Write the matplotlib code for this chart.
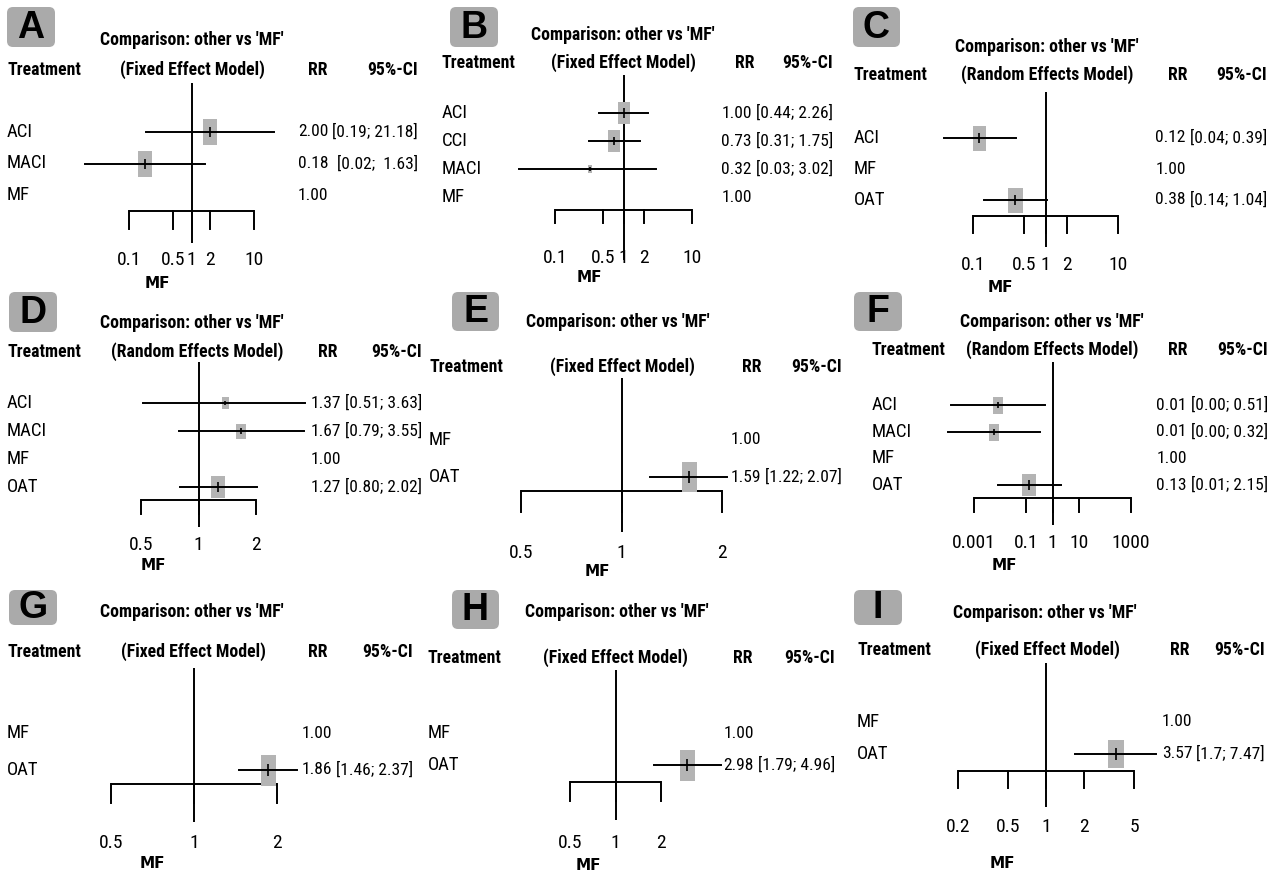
import numpy as np
import matplotlib
matplotlib.use('Agg')
import matplotlib.pyplot as plt
from matplotlib import font_manager
from matplotlib.patches import FancyBboxPatch

W, H = 1278, 873
nan = np.nan

# ---- data ----
a_treat = ['ACI', 'MACI', 'MF']
a_rr = [2.00, 0.18, 1.00]
a_lo = [0.19, 0.02, nan]
a_hi = [21.18, 1.63, nan]
a_ci = ['[0.19; 21.18]', '[0.02;  1.63]', '']

b_treat = ['ACI', 'CCI', 'MACI', 'MF']
b_rr = [1.00, 0.73, 0.32, 1.00]
b_lo = [0.44, 0.31, 0.03, nan]
b_hi = [2.26, 1.75, 3.02, nan]
b_ci = ['[0.44; 2.26]', '[0.31; 1.75]', '[0.03; 3.02]', '']

c_treat = ['ACI', 'MF', 'OAT']
c_rr = [0.12, 1.00, 0.38]
c_lo = [0.04, nan, 0.14]
c_hi = [0.39, nan, 1.04]
c_ci = ['[0.04; 0.39]', '', '[0.14; 1.04]']

d_treat = ['ACI', 'MACI', 'MF', 'OAT']
d_rr = [1.37, 1.67, 1.00, 1.27]
d_lo = [0.51, 0.79, nan, 0.80]
d_hi = [3.63, 3.55, nan, 2.02]
d_ci = ['[0.51; 3.63]', '[0.79; 3.55]', '', '[0.80; 2.02]']

e_treat = ['MF', 'OAT']
e_rr = [1.00, 1.59]
e_lo = [nan, 1.22]
e_hi = [nan, 2.07]
e_ci = ['', '[1.22; 2.07]']

f_treat = ['ACI', 'MACI', 'MF', 'OAT']
f_rr = [0.0085, 0.0059, 1.00, 0.13]
f_lo = [0.00013, 0.0001, nan, 0.008]
f_hi = [0.51, 0.32, nan, 2.15]
f_ci = ['[0.00; 0.51]', '[0.00; 0.32]', '', '[0.01; 2.15]']

g_treat = ['MF', 'OAT']
g_rr = [1.00, 1.86]
g_lo = [nan, 1.46]
g_hi = [nan, 2.37]
g_ci = ['', '[1.46; 2.37]']

h_treat = ['MF', 'OAT']
h_rr = [1.00, 2.98]
h_lo = [nan, 1.79]
h_hi = [nan, 4.96]
h_ci = ['', '[1.79; 4.96]']

i_treat = ['MF', 'OAT']
i_rr = [1.00, 3.57]
i_lo = [nan, 1.7]
i_hi = [nan, 7.47]
i_ci = ['', '[1.7; 7.47]']

ticks_wide = [0.1, 0.5, 1, 2, 10]
ticks_half = [0.5, 1, 2]
ticks_f = [0.001, 0.1, 1, 10, 1000]
ticks_i = [0.2, 0.5, 1, 2, 5]

FIXED = '(Fixed Effect Model)'
RANDOM = '(Random Effects Model)'

# ---- fonts ----
names = {f.name for f in font_manager.fontManager.ttflist}
NARROW = None
for cand in ['Liberation Sans Narrow', 'Arial Narrow', 'Roboto Condensed', 'Open Sans Condensed']:
    if cand in names:
        NARROW = cand
        break
if NARROW is None:
    NARROW = 'Liberation Sans'
    FS, HFS, VFS = 11, 11, 10.5
else:
    FS, HFS, VFS = 13.5, 12.8, 12.5
LW = 1.4

fig = plt.figure(figsize=(W / 100, H / 100), dpi=100)
ov = fig.add_axes([0, 0, 1, 1])
ov.set_xlim(0, W)
ov.set_ylim(H, 0)
ov.axis('off')
renderer = fig.canvas.get_renderer()


def txt(x, y, s, bold=False, ha='left', size=None):
    return ov.text(x, y, s, ha=ha, va='center', family=NARROW,
                   fontweight='bold' if bold else 'normal', fontsize=size or FS)


def panel(tag, treat, rr, lo, hi, ci, ticks, model, L):
    # label box
    x0, y0, x1, y1 = L['box']
    ov.add_patch(FancyBboxPatch((x0, y0), x1 - x0, y1 - y0,
                                boxstyle='round,pad=0,rounding_size=6',
                                fc='#aaaaaa', ec='none'))
    ov.text((x0 + x1) / 2, (y0 + y1) / 2 + 1, tag, ha='center', va='center',
            family='Liberation Sans', fontweight='bold', fontsize=27)

    # headers
    txt(L['t1'][0], L['t1'][1], "Comparison: other vs 'MF'", bold=True, ha='center', size=HFS)
    txt(L['t2'][0], L['t2'][1], model, bold=True, ha='center', size=HFS)
    txt(L['tx'], L['t2'][1], 'Treatment', bold=True, size=HFS)
    txt(L['rr'], L['t2'][1], 'RR', bold=True, ha='center', size=HFS)
    txt(L['cir'], L['t2'][1], '95%-CI', bold=True, ha='right', size=HFS)

    # rows text: CI column right aligned, RR column right aligned left of it
    ci_left = L['cir']
    for k, name in enumerate(treat):
        y = L['row0'] + k * L['step']
        txt(L['tx'], y, name)
        if ci[k]:
            t = txt(L['cir'], y, ci[k], ha='right', size=VFS)
            ci_left = min(ci_left, t.get_window_extent(renderer).x0)
    probe = txt(L['vx'], -100, '0.00', size=VFS)
    rr_w = probe.get_window_extent(renderer).width
    probe.remove()
    rr_right = min(L['vx'] + rr_w, ci_left - 4)
    for k in range(len(treat)):
        y = L['row0'] + k * L['step']
        txt(rr_right, y, f'{rr[k]:.2f}', ha='right', size=VFS)

    ov.text(L['mf'][0], L['mf'][1], 'MF', ha='center', va='center',
            family='DejaVu Sans', fontweight='bold', fontsize=11)

    # forest axes
    px0, px1 = L['tpx']
    ax = fig.add_axes([px0 / W, 1 - L['vbot'] / H, (px1 - px0) / W,
                       (L['vbot'] - L['vtop']) / H])
    ax.set_xscale('log')
    ax.set_xlim(ticks[0], ticks[-1])

    def to_row(y):
        return (y - L['row0']) / L['step']

    ax.set_ylim(to_row(L['vbot']), to_row(L['vtop']))
    ax.axis('off')
    ax.axvline(1, color='black', lw=LW)
    ya, yb = to_row(L['axis']), to_row(L['tbot'])
    ax.plot([ticks[0], ticks[-1]], [ya, ya], color='black', lw=LW,
            solid_capstyle='butt', clip_on=False)
    for t in ticks:
        ax.plot([t, t], [ya, yb], color='black', lw=LW, clip_on=False)
        ax.text(t, to_row(L['lab']), f'{t:g}', ha='center', va='center',
                family=NARROW, fontsize=FS + 0.5, clip_on=False)

    for k in range(len(treat)):
        if np.isnan(lo[k]):
            continue
        ax.plot([lo[k], hi[k]], [k, k], color='black', lw=LW, zorder=3,
                clip_on=False)
        w, h = L['boxes'][k]
        marker = [(-w, -h), (w, -h), (w, h), (-w, h), (-w, -h)]
        ax.plot([rr[k]], [k], marker=marker, markersize=h * 0.72,
                color='#b4b4b4', mew=0, zorder=2, clip_on=False)
        ax.plot([rr[k]], [k], marker='|', markersize=h * 0.72 * 0.4,
                color='black', mew=1.2, zorder=4, clip_on=False)


panel('A', a_treat, a_rr, a_lo, a_hi, a_ci, ticks_wide, FIXED, dict(
    box=(7, 7, 55, 47), t1=(192, 40), t2=(192, 70), tx=7, rr=318, cir=418,
    row0=132, step=31.5, vtop=83, vbot=243, axis=211, tbot=229, lab=260,
    tpx=(129, 254), vx=303, mf=(157, 284),
    boxes=[(14, 26), (14, 27), None]))

panel('B', b_treat, b_rr, b_lo, b_hi, b_ci, ticks_wide, FIXED, dict(
    box=(450, 7, 498, 47), t1=(623, 35), t2=(623, 63), tx=442, rr=745, cir=833,
    row0=113, step=28, vtop=75, vbot=260, axis=210, tbot=223, lab=258,
    tpx=(555, 692), vx=731, mf=(589, 277),
    boxes=[(13, 23), (12, 22), (4, 8), None]))

panel('C', c_treat, c_rr, c_lo, c_hi, c_ci, ticks_wide, RANDOM, dict(
    box=(853, 7, 900, 47), t1=(1047, 47), t2=(1047, 75), tx=854, rr=1178, cir=1267,
    row0=138, step=31, vtop=92, vbot=247, axis=216, tbot=233, lab=265,
    tpx=(973, 1118), vx=1163, mf=(1000, 287),
    boxes=[(13, 25), None, (15, 25)]))

panel('D', d_treat, d_rr, d_lo, d_hi, d_ci, ticks_half, RANDOM, dict(
    box=(9, 292, 57, 332), t1=(192, 323), t2=(197, 352), tx=7, rr=328, cir=422,
    row0=403, step=28, vtop=362, vbot=527, axis=500, tbot=514, lab=545,
    tpx=(141, 256), vx=313, mf=(153, 566),
    boxes=[(7, 12), (10, 15), None, (15, 23)]))

panel('E', e_treat, e_rr, e_lo, e_hi, e_ci, ticks_half, FIXED, dict(
    box=(452, 292, 499, 331), t1=(618, 322), t2=(622, 367), tx=429, rr=752, cir=842,
    row0=440, step=37, vtop=378, vbot=532, axis=491, tbot=512, lab=553,
    tpx=(521, 722), vx=737, mf=(597, 572),
    boxes=[None, (15, 30)]))

panel('F', f_treat, f_rr, f_lo, f_hi, f_ci, ticks_f, RANDOM, dict(
    box=(854, 292, 902, 331), t1=(1052, 322), t2=(1052, 350), tx=872, rr=1178, cir=1268,
    row0=405, step=26.7, vtop=362, vbot=525, axis=498, tbot=512, lab=543,
    tpx=(974, 1131), vx=1163, mf=(1004, 565),
    boxes=[(10, 17), (10, 17), None, (15, 23)]))

panel('G', g_treat, g_rr, g_lo, g_hi, g_ci, ticks_half, FIXED, dict(
    box=(9, 590, 57, 625), t1=(192, 612), t2=(193, 652), tx=7, rr=318, cir=413,
    row0=733, step=37, vtop=668, vbot=822, axis=784, tbot=803, lab=843,
    tpx=(111, 277), vx=305, mf=(152, 863),
    boxes=[None, (15, 31)]))

panel('H', h_treat, h_rr, h_lo, h_hi, h_ci, ticks_half, FIXED, dict(
    box=(452, 590, 499, 629), t1=(617, 612), t2=(615, 658), tx=428, rr=743, cir=835,
    row0=733, step=32, vtop=670, vbot=820, axis=782, tbot=801, lab=843,
    tpx=(570, 661), vx=728, mf=(588, 865),
    boxes=[None, (15, 31)]))

panel('I', i_treat, i_rr, i_lo, i_hi, i_ci, ticks_i, FIXED, dict(
    box=(854, 590, 902, 625), t1=(1045, 613), t2=(1047, 650), tx=857, rr=1180, cir=1265,
    row0=722, step=32, vtop=663, vbot=807, axis=771, tbot=788, lab=827,
    tpx=(958, 1134), vx=1163, mf=(1002, 863),
    boxes=[None, (16, 28)]))

fig.savefig('out.png', dpi=100)
